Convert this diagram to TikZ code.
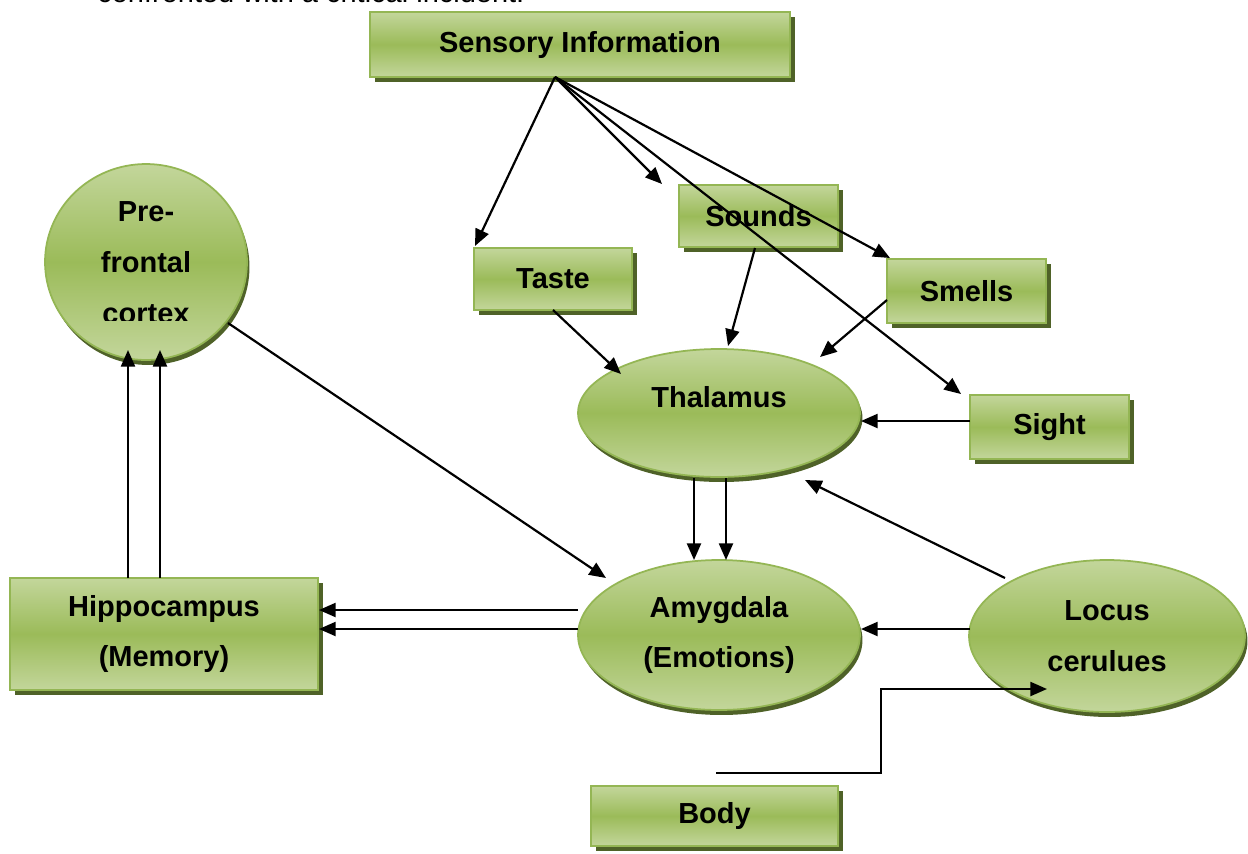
\documentclass[tikz,border=0pt]{standalone}
\usepackage{fontspec}
\setmainfont{Liberation Sans}
\usetikzlibrary{shapes.geometric,shadows,arrows.meta}
\definecolor{gl}{HTML}{C3D69B}
\definecolor{gm}{HTML}{9BBB59}
\definecolor{gb}{HTML}{94B654}
\definecolor{gs}{HTML}{4F6228}
\tikzset{
  lbl/.style={font=\fontsize{16.5}{29}\selectfont\bfseries, align=center, text=black},
  gbox/.style={lbl, rectangle, draw=gb, line width=1pt, top color=gl, bottom color=gl, middle color=gm,
    general shadow={fill=gs, shadow xshift=0.1cm, shadow yshift=-0.1cm}, inner sep=0pt},
  gell/.style={lbl, ellipse, draw=gb, line width=1pt, top color=gl, bottom color=gl, middle color=gm,
    general shadow={fill=gs, shadow xshift=0.05cm, shadow yshift=-0.1cm}, inner sep=0pt},
  arr/.style={line width=1.25pt, -{Triangle[length=9.5pt,width=8pt]}},
  ln/.style={line width=1.25pt}
}
\begin{document}
\begin{tikzpicture}[x=0.02cm,y=-0.02cm]
\useasboundingbox (0,0) rectangle (1248,853);
\fill[white] (0,0) rectangle (1248,853);
\node[anchor=base west, font=\fontsize{16.5}{29}\selectfont, inner sep=0pt] (top) at (97,2) {confronted with a critical incident.};

% nodes
\node[gbox, minimum width=8.4cm, minimum height=1.3cm] (si) at (580,44.5) {Sensory Information};
\node[gbox, minimum width=3.16cm, minimum height=1.24cm] (taste) at (553,279) {Taste};
\node[gbox, minimum width=3.18cm, minimum height=1.24cm] (sounds) at (758.5,216) {Sounds};
\node[gbox, minimum width=3.18cm, minimum height=1.28cm] (smells) at (966.5,291) {Smells};
\node[gbox, minimum width=3.18cm, minimum height=1.28cm] (sight) at (1049.5,427) {Sight};
\node[gbox, minimum width=6.16cm, minimum height=2.24cm] (hippo) at (164,634) {Hippocampus\\(Memory)};
\node[gbox, minimum width=4.94cm, minimum height=1.2cm] (body) at (714.5,816) {Body};
\node[gell, minimum width=5.64cm, minimum height=2.56cm] (thal) at (719,413) {};
\node[lbl] (thaltext) at (719,397) {Thalamus};
\node[gell, minimum width=5.64cm, minimum height=3.0cm] (amyg) at (719,635) {Amygdala\\(Emotions)};
\node[gell, minimum width=5.52cm, minimum height=3.04cm] (locus) at (1107,636) {Locus\\cerulues};
\node[gell, minimum width=4.04cm, minimum height=3.92cm] (pfc) at (146,262) {};
\begin{scope}
  \clip (40,160) rectangle (252,320);
  \node[lbl] (pfctext) at (146,263) {Pre-\\frontal\\cortex};
\end{scope}

% coordinates
\coordinate (sio) at (555,77);
\coordinate (tTaste) at (475,246);
\coordinate (tSounds) at (662,184);
\coordinate (tSmells) at (890,258);
\coordinate (tSight) at (961,394);
\coordinate (s1) at (553,310);  \coordinate (e1) at (621,374);
\coordinate (s2) at (755,248);  \coordinate (e2) at (728,346);
\coordinate (s3) at (887,300);  \coordinate (e3) at (820,357);
\coordinate (s4) at (970,421);  \coordinate (e4) at (861,421);
\coordinate (s5) at (694,478);  \coordinate (e5) at (694,560);
\coordinate (s6) at (726,478);  \coordinate (e6) at (726,560);
\coordinate (s7) at (1005,578); \coordinate (e7) at (805,480);
\coordinate (s8) at (970,629);  \coordinate (e8) at (861,629);
\coordinate (s9) at (578,610);  \coordinate (e9) at (319,610);
\coordinate (s10) at (578,629); \coordinate (e10) at (319,629);
\coordinate (s11) at (128,578); \coordinate (e11) at (128,350);
\coordinate (s12) at (160,578); \coordinate (e12) at (160,350);
\coordinate (s13) at (228,323); \coordinate (e13) at (606,578);
\coordinate (b0) at (716,773);
\coordinate (b1) at (881,773);
\coordinate (b2) at (881,689);
\coordinate (b3) at (1047,689);

% connectors
\draw[arr] (sio) -- (tTaste);
\draw[arr] (sio) -- (tSounds);
\draw[arr] (sio) -- (tSmells);
\draw[arr] (sio) -- (tSight);
\draw[arr] (s1) -- (e1);
\draw[arr] (s2) -- (e2);
\draw[arr] (s3) -- (e3);
\draw[arr] (s4) -- (e4);
\draw[arr] (s5) -- (e5);
\draw[arr] (s6) -- (e6);
\draw[arr] (s7) -- (e7);
\draw[arr] (s8) -- (e8);
\draw[arr] (s9) -- (e9);
\draw[arr] (s10) -- (e10);
\draw[arr] (s11) -- (e11);
\draw[arr] (s12) -- (e12);
\draw[arr] (s13) -- (e13);
\draw[arr] (b0) -- (b1) -- (b2) -- (b3);
\end{tikzpicture}
\end{document}
